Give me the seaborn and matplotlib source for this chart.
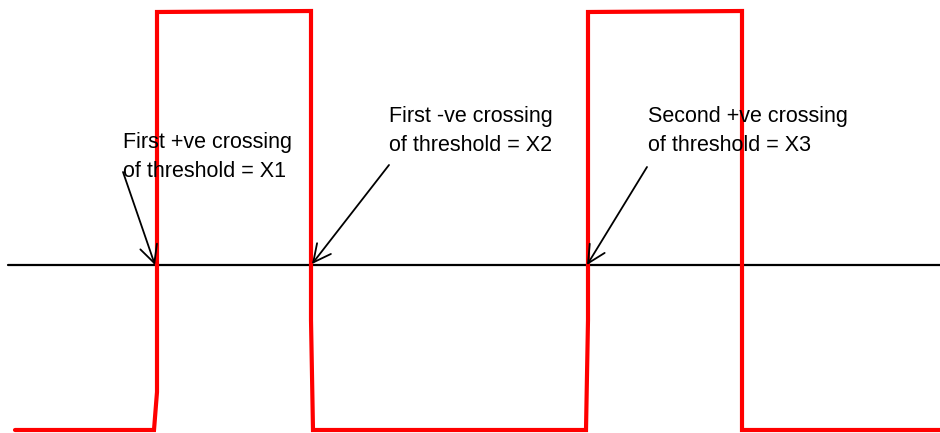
import matplotlib
matplotlib.use("Agg")
import matplotlib.pyplot as plt
import seaborn as sns
import pandas as pd

# Waveform (drawing units, y downward)
wave_x = [15, 154, 157, 157, 311, 311, 313, 586, 588, 588, 742, 742, 940]
wave_y = [430, 430, 392, 12, 11, 320, 430, 430, 320, 12, 11, 430, 430]

# Threshold line
thr_x = [8, 940]
thr_y = [265, 265]

# Annotations
labels = ["First +ve crossing\nof threshold = X1",
          "First -ve crossing\nof threshold = X2",
          "Second +ve crossing\nof threshold = X3"]
text_pos = [(123, 132), (389, 106), (648, 106)]
arrow_tail = [(123, 172), (389, 165), (647, 167)]
arrow_head = [(155, 265), (312, 264), (587, 265)]

sns.set_theme(style="white")
plt.rcParams['font.family'] = ['Liberation Sans', 'DejaVu Sans']

fig = plt.figure(figsize=(9.4, 4.33), dpi=100)
ax = fig.add_axes([0, 0, 1, 1])

thr = pd.DataFrame({"x": thr_x, "y": thr_y})
sns.lineplot(data=thr, x="x", y="y", color="black", lw=1.6, ax=ax,
             sort=False, estimator=None)
wave = pd.DataFrame({"x": wave_x, "y": wave_y})
sns.lineplot(data=wave, x="x", y="y", color="#ff0000", lw=3.0, ax=ax,
             sort=False, estimator=None, solid_joinstyle="miter")

for lab, (tx, ty), tail, head in zip(labels, text_pos, arrow_tail, arrow_head):
    ax.text(tx, ty, lab, fontsize=15.5, color="black", ha="left", va="top",
            linespacing=1.5)
    ax.annotate("", xy=head, xytext=tail,
                arrowprops=dict(arrowstyle="->,head_length=0.7,head_width=0.35",
                                color="black", lw=1.3, shrinkA=0, shrinkB=0,
                                mutation_scale=18))

ax.set_xlim(0, 940)
ax.set_ylim(433, 0)
ax.set_axis_off()

fig.savefig("out.png", dpi=100, facecolor="white")
